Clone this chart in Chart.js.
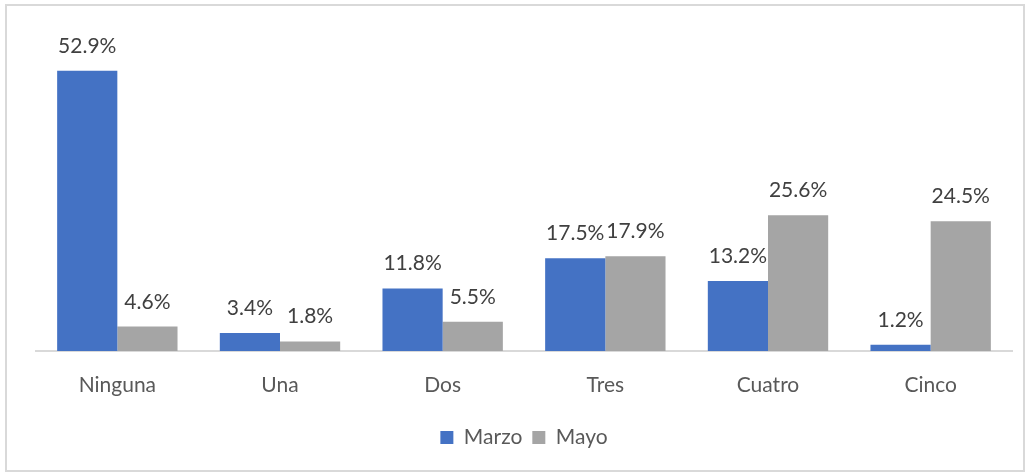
<!DOCTYPE html>
<html lang="es">
<head>
	<meta charset="UTF-8"/>
	<title>Marzo vs Mayo</title>
	<script src="https://cdn.jsdelivr.net/npm/chart.js"></script>
	<style>
		html, body { margin: 0; padding: 0; background: #fff; }
		#frame { position: absolute; left: 5px; top: 4px; width: 1016px; height: 464px; border: 2px solid #d9d9d9; }
		#wrap { position: absolute; left: 0; top: 0; width: 1031px; height: 474px; }
	</style>
	<script>
		const categories = ["Ninguna", "Una", "Dos", "Tres", "Cuatro", "Cinco"];
		const marzo = [52.9, 3.4, 11.8, 17.5, 13.2, 1.2];
		const mayo = [4.6, 1.8, 5.5, 17.9, 25.6, 24.5];
		const seriesNames = ["Marzo", "Mayo"];

		// etiquetas encima de cada barra
		const valueLabels = {
			id: "valueLabels",
			afterDatasetsDraw(chart) {
				const ctx = chart.ctx;
				ctx.save();
				ctx.font = "21px Lato";
				ctx.fillStyle = "#404040";
				ctx.textAlign = "center";
				ctx.textBaseline = "alphabetic";
				chart.data.datasets.forEach((ds, i) => {
					chart.getDatasetMeta(i).data.forEach((bar, j) => {
						ctx.fillText(ds.data[j].toFixed(1) + "%", bar.x, bar.y - 18);
					});
				});
				ctx.restore();
			}
		};

		window.addEventListener("load", function() {
			const ctx = document.getElementById("chart").getContext("2d");
			new Chart(ctx, {
				type: "bar",
				data: {
					labels: categories,
					datasets: [
						{ label: seriesNames[0], data: marzo, backgroundColor: "#4472C4" },
						{ label: seriesNames[1], data: mayo, backgroundColor: "#A5A5A5" }
					]
				},
				options: {
					responsive: false,
					animation: false,
					categoryPercentage: 0.74,
					barPercentage: 1,
					layout: { padding: { left: 36, right: 19, top: 33, bottom: 16 } },
					plugins: {
						tooltip: { enabled: false },
						legend: {
							position: "bottom",
							labels: {
								boxWidth: 13, boxHeight: 13, padding: 10,
								color: "#595959",
								font: { family: "Lato", size: 21 }
							}
						}
					},
					scales: {
						x: {
							grid: { display: false },
							border: { display: true, color: "#d9d9d9", width: 2 },
							ticks: { color: "#595959", padding: 14, font: { family: "Lato", size: 21 } },
							afterFit(scale) { scale.height = 66; }
						},
						y: { display: false, min: 0, max: 60 }
					}
				},
				plugins: [valueLabels]
			});
		}, false);
	</script>
</head>
<body>
	<div id="frame"></div>
	<div id="wrap"><canvas id="chart" width="1031" height="474"></canvas></div>
</body>
</html>
